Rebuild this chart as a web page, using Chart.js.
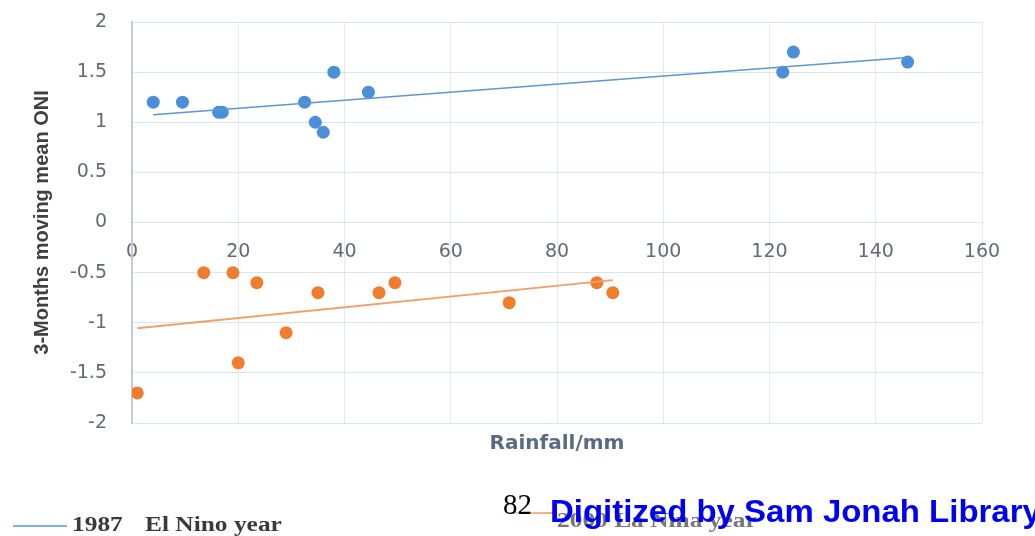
<!DOCTYPE html>
<html>
<head>
<meta charset="utf-8">
<script src="https://cdn.jsdelivr.net/npm/chart.js@4/dist/chart.umd.min.js"></script>
<style>
  html, body { margin: 0; padding: 0; background: #ffffff; overflow: hidden; }
  #wrap { position: relative; width: 1035px; height: 536px; overflow: hidden; }
  #c { position: absolute; left: 0; top: 0; }
  .txt { position: absolute; white-space: nowrap; transform-origin: 0 0; }
  .serif { font-family: "Liberation Serif", "DejaVu Serif", serif; font-weight: bold; font-size: 20px; line-height: 20px; transform: scaleX(1.27); }
  .swatch { position: absolute; height: 2px; }
</style>
</head>
<body>
<div id="wrap">
  <canvas id="c" width="1035" height="536"></canvas>

  <!-- legend: El Nino -->
  <div class="swatch" style="left:13px; top:525px; width:54px; background:#7fb0de;"></div>
  <div class="txt serif" style="left:72px; top:514px; color:#3a3a3a;">1987</div>
  <div class="txt serif" style="left:145px; top:514px; color:#3a3a3a;">El Nino year</div>

  <!-- legend: La Nina -->
  <div class="swatch" style="left:507px; top:512px; width:50px; background:linear-gradient(90deg,#f7d2b8,#f0a772);"></div>
  <div class="txt serif" style="left:557px; top:510px; color:#777777;">2000 La Nina year</div>

  <!-- page number and library stamp -->
  <div class="txt" style="left:503px; top:490px; font-family:'Liberation Serif',serif; font-size:29px; line-height:29px; color:#000;">82</div>
  <div class="txt" style="left:550px; top:495px; font-family:'Liberation Sans',Arial,sans-serif; font-weight:bold; font-size:32px; line-height:32px; color:#0000f5; transform:scaleX(1.03);">Digitized by Sam Jonah Library</div>
</div>

<script>
// 1987 El Nino year: rainfall (mm) vs 3-month moving mean ONI
const elNinoRain = [4, 9.5, 16.3, 17, 32.5, 34.5, 36, 38, 44.5, 122.5, 124.5, 146];
const elNinoOni  = [1.2, 1.2, 1.1, 1.1, 1.2, 1.0, 0.9, 1.5, 1.3, 1.5, 1.7, 1.6];

// 2000 La Nina year
const laNinaRain = [1, 13.5, 19, 20, 23.5, 29, 35, 46.5, 49.5, 71, 87.5, 90.5];
const laNinaOni  = [-1.7, -0.5, -0.5, -1.4, -0.6, -1.1, -0.7, -0.7, -0.6, -0.8, -0.6, -0.7];

// linear trendline end points
const elNinoTrendRain = [4, 146];
const elNinoTrendOni  = [1.075, 1.645];
const laNinaTrendRain = [1, 90.5];
const laNinaTrendOni  = [-1.055, -0.575];

// axis ticks
const rainTicks = [0, 20, 40, 60, 80, 100, 120, 140, 160];
const oniTicks  = [2, 1.5, 1, 0.5, 0, -0.5, -1, -1.5, -2];

const toPoints = (xs, ys) => xs.map((x, i) => ({ x: x, y: ys[i] }));

const BLUE = '#4a8fd8';
const ORANGE = '#ef7d2d';
const tickFont = { family: 'DejaVu Sans', size: 19 };

new Chart(document.getElementById('c'), {
  type: 'scatter',
  data: {
    datasets: [
      {
        type: 'line', label: '1987 El Nino year trend',
        data: toPoints(elNinoTrendRain, elNinoTrendOni),
        borderColor: '#5b97d2', borderWidth: 1.5, pointRadius: 0, fill: false, order: 0
      },
      {
        type: 'line', label: '2000 La Nina year trend',
        data: toPoints(laNinaTrendRain, laNinaTrendOni),
        borderColor: '#f2a068', borderWidth: 1.8, pointRadius: 0, fill: false, order: 0
      },
      {
        label: '1987 El Nino year',
        data: toPoints(elNinoRain, elNinoOni),
        backgroundColor: BLUE, borderColor: BLUE, pointRadius: 6.5, pointBorderWidth: 0, order: 1
      },
      {
        label: '2000 La Nina year',
        data: toPoints(laNinaRain, laNinaOni),
        backgroundColor: ORANGE, borderColor: ORANGE, pointRadius: 6.5, pointBorderWidth: 0, order: 1
      }
    ]
  },
  options: {
    responsive: false,
    animation: false,
    devicePixelRatio: 1,
    layout: { padding: { top: 22, right: 53, bottom: 80, left: 0 } },
    plugins: {
      legend: { display: false },
      tooltip: { enabled: false },
      title: {
        display: true,
        text: 'Rainfall/mm',
        position: 'bottom',
        fullSize: false,
        color: '#5a6a80',
        font: { family: 'DejaVu Sans', size: 20, weight: 'bold', lineHeight: 1.2 },
        padding: { top: 9, bottom: 0 }
      }
    },
    scales: {
      x: {
        type: 'linear',
        position: { y: 0 },
        min: rainTicks[0],
        max: rainTicks[rainTicks.length - 1],
        afterBuildTicks: (s) => { s.ticks = rainTicks.map(v => ({ value: v })); },
        ticks: {
          color: '#636a75', font: tickFont, padding: 18,
          callback: (v) => String(v)
        },
        grid: { color: '#e4e9f0', lineWidth: 1, drawTicks: false },
        border: { color: '#dbe3ec', width: 1 }
      },
      y: {
        type: 'linear',
        position: 'left',
        min: oniTicks[oniTicks.length - 1],
        max: oniTicks[0],
        afterBuildTicks: (s) => { s.ticks = oniTicks.slice().reverse().map(v => ({ value: v })); },
        afterFit: (s) => { s.width = 132; s.paddingTop = 10; s.paddingBottom = 10; },
        ticks: {
          color: '#636a75', font: tickFont, padding: 25,
          callback: (v) => String(v)
        },
        grid: { color: '#d9e4f1', lineWidth: 1, drawTicks: false },
        border: { color: '#c3cad3', width: 2 },
        title: {
          display: true,
          text: '3-Months moving mean ONI',
          color: '#404040',
          font: { family: 'Liberation Sans', size: 20, weight: 'bold', lineHeight: 1.2 },
          padding: { top: 30, bottom: 0 }
        }
      }
    }
  }
});
</script>
</body>
</html>
